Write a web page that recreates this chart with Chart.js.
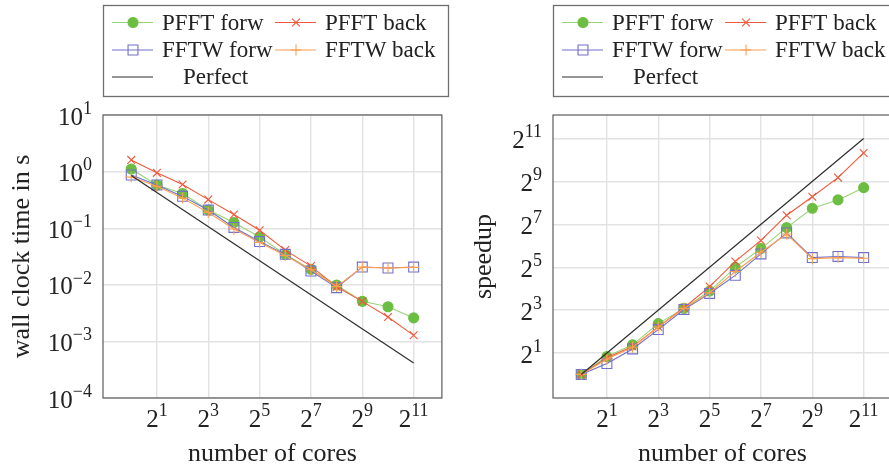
<!DOCTYPE html>
<html>
<head>
<meta charset="utf-8">
<script src="https://cdn.jsdelivr.net/npm/chart.js@4/dist/chart.umd.min.js"></script>
<style>
  html, body { margin: 0; padding: 0; background: #fff; overflow: hidden; }
  #wrap { position: relative; width: 889px; height: 470px; overflow: hidden; }
  .panel { position: absolute; top: 0; width: 450px; height: 470px; }
</style>
</head>
<body>
<div id="wrap">
  <div class="panel" style="left:0"><canvas id="time-chart" width="450" height="470"></canvas></div>
  <div class="panel" style="left:450px"><canvas id="speedup-chart" width="450" height="470"></canvas></div>
</div>
<script>
//Data
var cores = [1, 2, 4, 8, 16, 32, 64, 128, 256, 512, 1024, 2048];

var timePfftForw = [1.11, 0.58, 0.41, 0.21, 0.126, 0.070, 0.0345, 0.0187, 0.0099, 0.0051, 0.0041, 0.0026];
var timePfftBack = [1.61, 0.95, 0.59, 0.32, 0.175, 0.092, 0.041, 0.0214, 0.0092, 0.0051, 0.0027, 0.00128];
var timeFftwForw = [0.87, 0.58, 0.365, 0.209, 0.103, 0.058, 0.0345, 0.0175, 0.0089, 0.0206, 0.0198, 0.0206];
var timeFftwBack = [0.80, 0.55, 0.34, 0.19, 0.097, 0.056, 0.033, 0.0185, 0.0093, 0.0205, 0.0198, 0.0203];
var perfectCores = [1, 2048];
var perfectTime = [0.85, 0.000415];

var speedupPfftForw = [1, 1.78, 2.60, 5.17, 8.46, 14.8, 31.8, 58.5, 115, 215, 282, 419];
var speedupPfftBack = [1, 1.71, 2.46, 4.66, 8.63, 17.1, 38.6, 76.1, 172, 313, 580, 1287];
var speedupFftwForw = [1, 1.42, 2.28, 4.26, 8.17, 13.7, 24.6, 49.2, 97, 43.7, 45.3, 43.7];
var speedupFftwBack = [1, 1.65, 2.41, 4.63, 8.46, 14.0, 27.9, 52.0, 93.7, 42.2, 43.7, 42.8];
var perfectSpeedup = [1, 2048];

var coreTicks = [2, 8, 32, 128, 512, 2048];
var coreTickExps = ['1', '3', '5', '7', '9', '11'];
var timeTicks = [0.0001, 0.001, 0.01, 0.1, 1, 10];
var timeTickExps = ['\u22124', '\u22123', '\u22122', '\u22121', '0', '1'];
var speedupTicks = [2, 8, 32, 128, 512, 2048];
var speedupTickExps = ['1', '3', '5', '7', '9', '11'];

var seriesLabels = ['PFFT forw', 'PFFT back', 'FFTW forw', 'FFTW back', 'Perfect'];

var SERIF = '"Liberation Serif", "Times New Roman", serif';
var TEXT = '#222';

//Series styles
var styles = [
  { line: 'rgb(150,212,118)', fill: 'rgb(108,190,66)', point: 'circle', radius: 5 },
  { line: 'rgb(240,88,58)', fill: 'rgb(240,88,58)', point: 'crossRot', radius: 5.5 },
  { line: 'rgb(112,112,206)', fill: 'rgba(0,0,0,0)', point: 'rect', radius: 7 },
  { line: 'rgb(255,158,78)', fill: 'rgb(255,158,78)', point: 'cross', radius: 5.5 },
  { line: 'rgb(45,45,45)', fill: 'rgb(45,45,45)', point: false, radius: 0 }
];

function toPoints(xs, ys) {
  var pts = [];
  for (var i = 0; i < xs.length; i++) {
    pts.push({ x: xs[i], y: ys[i] });
  }
  return pts;
}

function makeDatasets(seriesList) {
  var sets = [];
  for (var i = 0; i < seriesList.length; i++) {
    var st = styles[i];
    sets.push({
      label: seriesLabels[i],
      data: seriesList[i],
      borderColor: st.line,
      borderWidth: i === 4 ? 1.2 : 1.1,
      pointStyle: st.point,
      pointRadius: st.radius,
      pointHoverRadius: st.radius,
      pointBackgroundColor: st.fill,
      pointBorderColor: i === 0 ? st.fill : st.line,
      pointBorderWidth: 1.1,
      tension: 0,
      fill: false,
      order: seriesList.length - i
    });
  }
  return sets;
}

// draws "base^exp" as real text
function drawPower(ctx, base, exp, x, y, align, baseDy, supDy) {
  ctx.font = '25px ' + SERIF;
  var wb = ctx.measureText(base).width;
  ctx.font = '18px ' + SERIF;
  var we = ctx.measureText(exp).width;
  var start = align === 'center' ? x - (wb + we) / 2 : x - (wb + we);
  ctx.textAlign = 'left';
  ctx.textBaseline = 'middle';
  ctx.font = '25px ' + SERIF;
  ctx.fillText(base, start, y + baseDy);
  ctx.font = '18px ' + SERIF;
  ctx.fillText(exp, start + wb, y + supDy);
}

var paperPlugin = {
  id: 'paper',
  afterDraw: function (chart) {
    var o = chart.options.plugins.paper;
    var ctx = chart.ctx;
    var area = chart.chartArea;
    var xs = chart.scales.x;
    var ys = chart.scales.y;
    ctx.save();

    // axis box
    ctx.strokeStyle = '#5c5c5c';
    ctx.lineWidth = 1.2;
    ctx.strokeRect(area.left, area.top, area.right - area.left, area.bottom - area.top);

    ctx.fillStyle = TEXT;
    for (var i = 0; i < coreTicks.length; i++) {
      drawPower(ctx, '2', coreTickExps[i], xs.getPixelForValue(coreTicks[i]), 420, 'center', 0, -9);
    }
    for (var j = 0; j < o.yTicks.length; j++) {
      drawPower(ctx, o.yBase, o.yExps[j], 92, ys.getPixelForValue(o.yTicks[j]), 'right', 3, -6);
    }

    // axis titles
    ctx.font = '26px ' + SERIF;
    ctx.textAlign = 'center';
    ctx.textBaseline = 'middle';
    ctx.fillText('number of cores', (area.left + area.right) / 2, 454);
    ctx.save();
    ctx.translate(o.yTitleX, (area.top + area.bottom) / 2);
    ctx.rotate(-Math.PI / 2);
    ctx.fillText(o.yTitle, 0, 0);
    ctx.restore();

    // legend box
    ctx.strokeStyle = '#6e6e6e';
    ctx.lineWidth = 1.3;
    ctx.strokeRect(103.5, 5.5, 345, 91);
    var slots = [[112, 22.5], [275, 22.5], [112, 50], [275, 50], [112, 77]];
    var sets = chart.data.datasets;
    for (var k = 0; k < sets.length; k++) {
      var ds = sets[k];
      var sx = slots[k][0];
      var sy = slots[k][1];
      ctx.strokeStyle = ds.borderColor;
      ctx.lineWidth = ds.borderWidth;
      ctx.beginPath();
      ctx.moveTo(sx, sy);
      ctx.lineTo(sx + 41, sy);
      ctx.stroke();
      if (ds.pointStyle) {
        ctx.fillStyle = ds.pointBackgroundColor;
        ctx.strokeStyle = ds.pointBorderColor;
        ctx.lineWidth = ds.pointBorderWidth;
        Chart.helpers.drawPoint(ctx, { pointStyle: ds.pointStyle, radius: ds.pointRadius, rotation: 0, borderWidth: ds.pointBorderWidth }, sx + 21, sy);
      }
      ctx.fillStyle = TEXT;
      ctx.font = '23px ' + SERIF;
      ctx.textAlign = 'left';
      ctx.textBaseline = 'middle';
      ctx.fillText(ds.label, k === 4 ? 183 : sx + 50, sy + 1);
    }
    ctx.restore();
  }
};

function makeChart(canvasId, datasets, yMin, yMax, yTicks, yBase, yExps, yTitle, yTitleX) {
  var gridStyle = { color: '#e2e2e2', lineWidth: 1.4, drawTicks: false };
  return new Chart(document.getElementById(canvasId).getContext('2d'), {
    type: 'line',
    data: { datasets: datasets },
    options: {
      responsive: false,
      animation: false,
      devicePixelRatio: 1,
      layout: { padding: { left: 103, right: 2, top: 115, bottom: 72 } },
      plugins: {
        legend: { display: false },
        tooltip: { enabled: false },
        paper: { yTicks: yTicks, yBase: yBase, yExps: yExps, yTitle: yTitle, yTitleX: yTitleX }
      },
      scales: {
        x: {
          type: 'logarithmic',
          min: Math.pow(2, -1.1),
          max: Math.pow(2, 12.1),
          grid: gridStyle,
          border: { display: false },
          ticks: { display: false },
          afterBuildTicks: function (scale) {
            scale.ticks = coreTicks.map(function (v) { return { value: v }; });
          },
          afterFit: function (scale) { scale.height = 0; }
        },
        y: {
          type: 'logarithmic',
          min: yMin,
          max: yMax,
          grid: gridStyle,
          border: { display: false },
          ticks: { display: false },
          afterBuildTicks: function (scale) {
            scale.ticks = yTicks.map(function (v) { return { value: v }; });
          },
          afterFit: function (scale) { scale.width = 0; }
        }
      }
    },
    plugins: [paperPlugin]
  });
}

var timeSets = makeDatasets([
  toPoints(cores, timePfftForw),
  toPoints(cores, timePfftBack),
  toPoints(cores, timeFftwForw),
  toPoints(cores, timeFftwBack),
  toPoints(perfectCores, perfectTime)
]);

var speedupSets = makeDatasets([
  toPoints(cores, speedupPfftForw),
  toPoints(cores, speedupPfftBack),
  toPoints(cores, speedupFftwForw),
  toPoints(cores, speedupFftwBack),
  toPoints(perfectCores, perfectSpeedup)
]);

makeChart('time-chart', timeSets, 0.0001, 10, timeTicks, '10', timeTickExps, 'wall clock time in s', 22);
makeChart('speedup-chart', speedupSets, Math.pow(2, -1.1), Math.pow(2, 12.1), speedupTicks, '2', speedupTickExps, 'speedup', 34);
</script>
</body>
</html>
